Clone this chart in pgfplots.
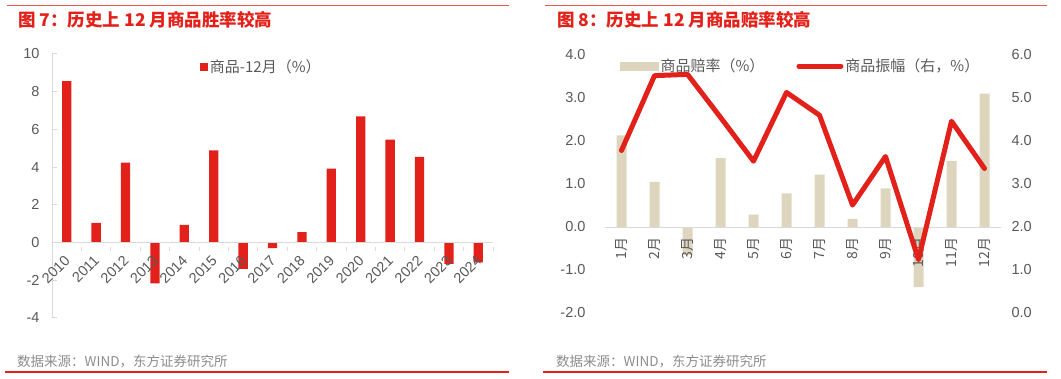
\documentclass[border=0pt]{standalone}
\usepackage{pgfplots}
\pgfplotsset{compat=1.18}
\usepackage{fontspec}
\setmainfont{Liberation Sans}
\newfontfamily\cjk{Noto Sans CJK SC}
\definecolor{cred}{HTML}{E3211B}
\definecolor{beige}{HTML}{DED5BE}
\definecolor{tickgray}{HTML}{595959}
\definecolor{axisgray}{HTML}{D9D9D9}
\definecolor{srcgray}{HTML}{8C8C8C}
\begin{document}
\begin{tikzpicture}[x=1pt,y=1pt]
\path[use as bounding box] (0,0) rectangle (1061,378);
% frame lines
\draw[cred!75, line width=1.6pt] (7,372.3) -- (509,372.3);
\draw[cred!75, line width=1.6pt] (545,372.3) -- (1047,372.3);
\draw[cred, line width=1.2pt] (5,6) -- (509,6);
\draw[cred, line width=1.2pt] (543,6) -- (1047,6);
% titles
\node[anchor=west, text=cred, font=\cjk\bfseries\fontsize{17.5}{20}\selectfont, inner sep=0] at (18,358) {图 7：历史上 12 月商品胜率较高};
\node[anchor=west, text=cred, font=\cjk\bfseries\fontsize{17.5}{20}\selectfont, inner sep=0] at (557,358) {图 8：历史上 12 月商品赔率较高};
% sources
\node[anchor=west, text=srcgray, font=\cjk\fontsize{13.5}{16}\selectfont, inner sep=0] at (17,16) {数据来源：WIND，东方证券研究所};
\node[anchor=west, text=srcgray, font=\cjk\fontsize{13.5}{16}\selectfont, inner sep=0] at (556,16) {数据来源：WIND，东方证券研究所};

% left chart
\begin{axis}[
  at={(52pt,60pt)}, anchor=south west, scale only axis, width=441pt, height=264pt,
  xmin=-0.5, xmax=14.5, ymin=-4, ymax=10,
  axis on top,
  axis x line=middle, axis y line=left,
  axis line style={-, draw=axisgray, line width=1pt},
  ytick={-4,-2,0,2,4,6,8,10}, yticklabels={-4,-2,0,2,4,6,8,10},
  xtick={0,...,14},
  xticklabels={2010,2011,2012,2013,2014,2015,2016,2017,2018,2019,2020,2021,2022,2023,2024},
  minor xtick={-0.5,0.5,...,14.5},
  tick align=inside,
  major tick length=5pt, minor tick length=4pt,
  major x tick style={draw=none},
  minor x tick style={draw=axisgray, line width=1pt, yshift=-4pt},
  major y tick style={draw=axisgray, line width=1pt},
  tick label style={font=\fontsize{14.5}{16}\selectfont, text=tickgray},
  yticklabel style={xshift=-9pt},
  xticklabel style={xshift=3pt, yshift=-8pt, rotate=45, anchor=east},
  ybar, bar width=9.3pt,
  legend style={at={(0.335,0.951)}, anchor=west, draw=none, fill=none,
    font=\cjk\fontsize{15}{18}\selectfont, text=tickgray, inner sep=0pt},
  legend cell align=left,
]
\addplot[fill=cred, draw=none,
  legend image code/.code={\fill[cred] (0pt,-4pt) rectangle (8pt,4pt);}]
  coordinates {(0,8.56) (1,1.05) (2,4.24) (3,-2.16) (4,0.94) (5,4.89) (6,-1.40) (7,-0.30)
               (8,0.55) (9,3.92) (10,6.69) (11,5.46) (12,4.54) (13,-1.13) (14,-1.05)};
\addlegendentry{商品-12月（\%）}
\end{axis}

% right chart, bars
\begin{axis}[
  at={(605pt,65pt)}, anchor=south west, scale only axis, width=396pt, height=258pt,
  xmin=-0.5, xmax=11.5, ymin=-2, ymax=4,
  axis on top,
  axis x line=middle, axis y line=left,
  axis line style={-, draw=axisgray, line width=1pt},
  y axis line style={draw=none},
  ytick={-2,-1,0,1,2,3,4}, yticklabels={-2.0,-1.0,0.0,1.0,2.0,3.0,4.0},
  xtick={0,...,11},
  xticklabels={1月,2月,3月,4月,5月,6月,7月,8月,9月,10月,11月,12月},
  major tick length=0pt,
  tick label style={font=\fontsize{14.5}{16}\selectfont, text=tickgray},
  yticklabel style={xshift=-16pt},
  xticklabel style={yshift=-7pt, rotate=90, anchor=east, font=\cjk\fontsize{14}{16}\selectfont},
  ybar, bar width=10pt,
]
\addplot[fill=beige, draw=none]
  coordinates {(0,2.13) (1,1.05) (2,-0.64) (3,1.60) (4,0.29) (5,0.78) (6,1.22) (7,0.19)
               (8,0.90) (9,-1.40) (10,1.54) (11,3.10)};
\end{axis}

% right chart, line
\begin{axis}[
  at={(605pt,65pt)}, anchor=south west, scale only axis, width=396pt, height=258pt,
  xmin=-0.5, xmax=11.5, ymin=0, ymax=6,
  axis x line=none, axis y line=right,
  y axis line style={draw=none},
  ytick={0,1,2,3,4,5,6}, yticklabels={0.0,1.0,2.0,3.0,4.0,5.0,6.0},
  major tick length=0pt,
  tick label style={font=\fontsize{14.5}{16}\selectfont, text=tickgray},
  yticklabel style={xshift=7pt},
  legend style={at={(0.038,0.957)}, anchor=west, draw=none, fill=none,
    font=\cjk\fontsize{15}{18}\selectfont, text=tickgray, inner sep=0pt,
    legend columns=2, /tikz/every even column/.append style={column sep=30pt}},
  legend cell align=left,
]
\addlegendimage{legend image code/.code={\fill[beige] (0pt,-4pt) rectangle (38pt,4pt);}}
\addlegendentry{商品赔率（\%）}
\addplot[cred, line width=5pt, line join=round, line cap=round, mark=none,
  legend image code/.code={\draw[cred, line width=5pt, line cap=round] (0pt,0pt) -- (42pt,0pt);}]
  coordinates {(0,3.78) (1,5.52) (2,5.55) (3,4.55) (4,3.53) (5,5.13) (6,4.60) (7,2.51)
               (8,3.64) (9,1.24) (10,4.46) (11,3.36)};
\addlegendentry{商品振幅（右，\%）}
\end{axis}
\end{tikzpicture}
\end{document}
